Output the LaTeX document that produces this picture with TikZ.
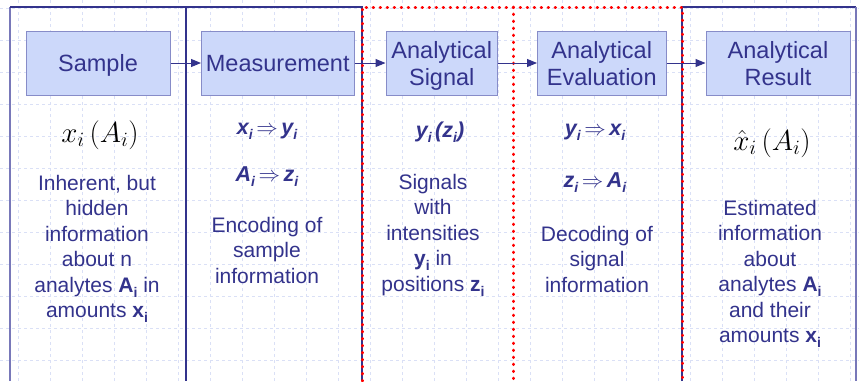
\RequirePackage{fix-cm}
\documentclass[tikz,border=0pt]{standalone}
\usepackage{fontspec}
\setmainfont{Liberation Sans}
\usetikzlibrary{arrows.meta}

\definecolor{navy}{RGB}{51,51,140}
\definecolor{outline}{RGB}{120,120,185}
\definecolor{boxfill}{RGB}{204,216,250}
\definecolor{boxline}{RGB}{135,140,200}
\definecolor{gridline}{RGB}{218,224,246}

% subscript set a bit lower than usual
\newcommand{\idx}[1]{\raisebox{-0.45ex}{\fontsize{14}{14}\selectfont #1}}

\tikzset{
  stage/.style={draw=boxline, fill=boxfill, text=navy, line width=1pt,
    minimum height=64pt, inner sep=0pt, align=center, text depth=0pt,
    font=\fontsize{23.5}{27}\selectfont},
  note/.style={text=navy, align=center, inner sep=0pt,
    font=\fontsize{21}{25.5}\selectfont},
  formula/.style={text=navy, inner sep=0pt,
    font=\fontsize{21.5}{21.5}\selectfont\bfseries\itshape},
  maths/.style={text=black, inner sep=0pt, font=\fontsize{29}{29}\selectfont},
  flow/.style={navy, line width=1pt, -{Triangle[length=10pt,width=8pt]}},
  redline/.style={red, line width=3pt, line cap=round,
    dash pattern=on 0.6pt off 6.4pt}
}

\begin{document}
\begin{tikzpicture}[x=1pt,y=-1pt]
  \useasboundingbox[fill=white] (0,0) rectangle (859,381);

  % Grid
  \foreach \gx in {0,...,26}
    \draw[gridline, dashed, line width=0.6pt] (18+32*\gx,0) -- (18+32*\gx,381);
  \foreach \gy in {0,...,11}
    \draw[gridline, dashed, line width=0.6pt] (0,8+32*\gy) -- (859,8+32*\gy);

  % Frame
  \draw[outline, line width=2pt] (10,381) -- (10,7);
  \draw[navy, line width=1.6pt] (10,7) -- (362,7) -- (362,381);
  \draw[navy, line width=2pt] (186,7) -- (186,381);
  \draw[navy, line width=1.6pt] (682,381) -- (682,7) -- (856,7);
  \draw[outline, line width=2pt] (856,7) -- (856,381);

  % Dotted frame
  \draw[redline] (362,381) -- (362,7) -- (682,7) -- (682,381);
  \draw[redline] (513,7) -- (513,381);

  % Stages
  \node[stage, minimum width=144pt] (sample) at (98,63) {Sample};
  \node[stage, minimum width=152.5pt] (measure) at (277.75,63) {Measurement};
  \node[stage, minimum width=111.5pt] (signal) at (441.75,63) {Analytical\\Signal};
  \node[stage, minimum width=128.5pt] (evaluate) at (601.75,63) {Analytical\\Evaluation};
  \node[stage, minimum width=144pt] (result) at (778,63) {Analytical\\Result};

  % Arrows
  \draw[flow] (sample) -- (measure);
  \draw[flow] (measure) -- (signal);
  \draw[flow] (signal) -- (evaluate);
  \draw[flow] (evaluate) -- (result);

  % Formulas
  \node[maths] (xa) at (100,135) {$x_i\,(A_i)$};
  \node[formula] (xy) at (267,131) {x\idx{i}\,$\Rightarrow$\,y\idx{i}};
  \node[formula] (az) at (267,177) {A\idx{i}\,$\Rightarrow$\,z\idx{i}};
  \node[formula] (yz) at (440,132) {y\idx{i}\,(z\idx{i})};
  \node[formula] (yx) at (595,132) {y\idx{i}\,$\Rightarrow$\,x\idx{i}};
  \node[formula] (za) at (595,183) {z\idx{i}\,$\Rightarrow$\,A\idx{i}};
  \node[maths] (xhat) at (772,143) {$\hat{x}_i\,(A_i)$};

  % Descriptions
  \node[note] (hidden) at (97,249)
    {Inherent, but\\hidden\\information\\about n\\analytes \textbf{A\idx{i}} in\\amounts \textbf{x\idx{i}}};
  \node[note] (encode) at (267,250) {Encoding of\\sample\\information};
  \node[note] (signals) at (433,235)
    {Signals\\with\\intensities\\\textbf{y\idx{i}} in\\positions \textbf{z\idx{i}}};
  \node[note] (decode) at (597,259) {Decoding of\\signal\\information};
  \node[note] (estimate) at (770,274)
    {Estimated\\information\\about\\analytes \textbf{A\idx{i}}\\and their\\amounts \textbf{x\idx{i}}};
\end{tikzpicture}
\end{document}
